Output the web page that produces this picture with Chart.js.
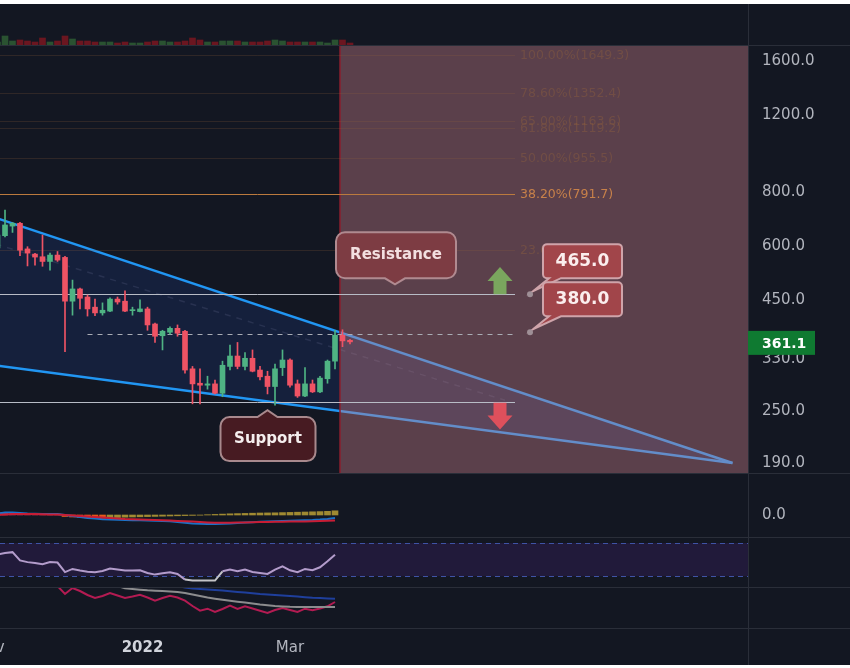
<!DOCTYPE html>
<html>
<head>
<meta charset="utf-8">
<script src="https://cdn.jsdelivr.net/npm/chart.js@4.4.1/dist/chart.umd.min.js"></script>
<style>
  html, body { margin: 0; padding: 0; background: #ffffff; }
  #wrap { position: absolute; left: 0; top: 4px; width: 850px; height: 661px; background: #131722; overflow: hidden; }
  #wrap canvas { position: absolute; left: 0; }
  .hsep { position: absolute; left: 0; width: 850px; height: 1px; background: #2a2e39; }
  .vsep { position: absolute; left: 748px; top: 0; width: 1px; height: 661px; background: #2a2e39; }
</style>
</head>
<body>
<div id="wrap">
  <div class="vsep"></div>
  <div class="hsep" style="top:41px"></div>
  <div class="hsep" style="top:469px"></div>
  <div class="hsep" style="top:533px"></div>
  <div class="hsep" style="top:583px"></div>
  <div class="hsep" style="top:624px"></div>
  <canvas id="vol" width="850" height="41" style="top:0"></canvas>
  <canvas id="main" width="850" height="427" style="top:42px"></canvas>
  <canvas id="macd" width="850" height="63" style="top:470px"></canvas>
  <canvas id="rsi" width="850" height="49" style="top:534px"></canvas>
  <canvas id="ind" width="850" height="77" style="top:584px"></canvas>
</div>
<script>
// 3-day candles
const candleDates = [
  '2021-11-04', '2021-11-07', '2021-11-10', '2021-11-13', '2021-11-16', '2021-11-19', '2021-11-22', '2021-11-25',
  '2021-11-28', '2021-12-01', '2021-12-04', '2021-12-07', '2021-12-10', '2021-12-13', '2021-12-16', '2021-12-19',
  '2021-12-22', '2021-12-25', '2021-12-28', '2021-12-31', '2022-01-03', '2022-01-06', '2022-01-09', '2022-01-12',
  '2022-01-15', '2022-01-18', '2022-01-21', '2022-01-24', '2022-01-27', '2022-01-30', '2022-02-02', '2022-02-05',
  '2022-02-08', '2022-02-11', '2022-02-14', '2022-02-17', '2022-02-20', '2022-02-23', '2022-02-26', '2022-03-01',
  '2022-03-04', '2022-03-07', '2022-03-10', '2022-03-13', '2022-03-16', '2022-03-19', '2022-03-22', '2022-03-25'
];
const opens  = [594, 634, 667, 677, 591, 575, 567, 553, 572, 565, 448, 478, 458, 434, 421, 425, 453, 448, 426, 424, 430, 397, 373, 380, 388, 382, 313, 290, 287, 289, 275, 317, 335, 317, 331, 311, 301, 285, 315, 328, 289, 271, 289, 277, 297, 326, 374, 364];
const highs  = [645, 726, 680, 680, 598, 577, 636, 578, 583, 568, 501, 480, 463, 453, 444, 456, 458, 473, 434, 451, 434, 399, 384, 391, 395, 384, 317, 313, 301, 295, 326, 355, 360, 341, 346, 317, 309, 321, 346, 330, 295, 315, 295, 301, 328, 384, 385, 366];
const lows   = [588, 630, 645, 570, 540, 542, 539, 528, 553, 343, 416, 430, 414, 415, 416, 424, 441, 424, 416, 423, 384, 360, 346, 376, 372, 306, 260, 260, 281, 274, 270, 311, 313, 311, 308, 295, 274, 258, 302, 284, 269, 270, 276, 276, 290, 313, 352, 357];
const closes = [636, 671, 677, 587, 578, 566, 553, 572, 557, 448, 478, 455, 430, 421, 427, 453, 446, 425, 428, 430, 395, 372, 382, 388, 378, 311, 289, 287, 289, 275, 319, 335, 317, 331, 309, 300, 285, 313, 328, 287, 271, 289, 277, 298, 326, 374, 363, 361.1];
const volumes = [30, 90, 40, 50, 40, 30, 70, 30, 40, 90, 60, 40, 40, 30, 30, 30, 20, 30, 20, 20, 30, 40, 40, 30, 30, 40, 70, 50, 30, 30, 40, 40, 40, 30, 30, 30, 40, 50, 40, 30, 30, 30, 30, 30, 20, 50, 50, 20];

const macdLine   = [1.5, 2.5, 2.5, 2, 1.5, 1.2, 1, 1, 1, 0, -1, -2, -3, -3.5, -4.2, -4.5, -4.8, -5, -5.2, -5.3, -5.5, -5.8, -6, -6.3, -7, -7.8, -8.5, -8.8, -9, -9, -8.8, -8.4, -8, -7.6, -7.2, -6.8, -6.5, -6.2, -5.9, -5.7, -5.5, -5.2, -5, -4.6, -4, -3, null, null];
const signalLine = [0, 0.5, 1, 1, 1, 1, 0.8, 0.6, 0.5, 0, -0.5, -1, -1.5, -2, -2.5, -3, -3.5, -4, -4.3, -4.5, -4.8, -5, -5.3, -5.6, -5.9, -6.2, -6.6, -7, -7.4, -7.7, -7.8, -7.8, -7.6, -7.4, -7.2, -7, -6.9, -6.8, -6.7, -6.6, -6.5, -6.4, -6.2, -6, -5.8, -5.5, null, null];
const macdHist   = [2.5, 2.3, 2.1, 1.9, 1.7, 1.5, 1.3, 1.1, 0.9, -1.5, -2.0, -2.5, -2.8, -3.0, -3.2, -2.8, -2.5, -2.2, -2.0, -1.8, -1.6, -1.4, -1.2, -1.0, -0.8, -0.6, -0.4, -0.2, 0.3, 0.6, 0.9, 1.2, 1.4, 1.6, 1.8, 2.0, 2.1, 2.2, 2.4, 2.6, 2.8, 3.0, 3.2, 3.4, 3.7, 4.2, null, null];

const rsiValues = [56, 58, 59, 49, 47, 46, 44.5, 47, 46.5, 35, 38.8, 37, 35.5, 34.8, 36.4, 39.2, 38, 36.8, 37, 37.2, 34, 32, 33.5, 34.8, 32.8, 26, 25, 24.8, 24.8, 24.8, 36, 38, 36, 38, 35.2, 34, 32.8, 38, 42, 37.2, 34.8, 38.8, 37.2, 40.8, 48, 56, null, null];
const rsiBands = [70, 30];

const indPink = [null, null, null, null, null, null, null, null, 42, 34, 40, 37, 33, 30, 32, 35, 32.5, 30, 31.5, 33.3, 30.5, 27.3, 30, 32.3, 30.5, 27.3, 22, 17.3, 19.3, 16, 19, 22.3, 19, 21.7, 19.5, 17.3, 15, 18, 20, 18, 16, 19.3, 17.7, 19.5, 21.7, 26, null, null];
const indGray = [null, null, null, null, null, null, null, null, null, null, null, null, null, null, null, 44, 42, 39.7, 39, 38.3, 37.7, 37.3, 37, 36.5, 36, 35, 33.5, 32, 30.5, 29.3, 28.2, 27.2, 26.3, 25.4, 24.5, 23.5, 22.7, 22, 21.6, 21.2, 21, 21, 21, 21, 21, 21, null, null];
const indBlue = [null, null, null, null, null, null, null, null, null, null, null, null, null, null, null, null, null, null, null, null, null, null, null, null, 42, 40.5, 39.5, 39, 38.5, 38, 37.4, 36.7, 36, 35.4, 34.7, 34, 33.5, 33, 32.5, 32, 31.4, 30.8, 30.3, 30, 29.6, 29.3, null, null];

const priceTicks = [1600, 1200, 800, 600, 450, 330, 250, 190];
const monthTicks = ['2021-11-01', '2022-01-01', '2022-03-01'];
const monthLabels = ['Nov', '2022', 'Mar'];

// drawings
const fibLevels = ['100.00%', '78.60%', '65.00%', '61.80%', '50.00%', '38.20%', '23.60%'];
const fibPrices = [1649.3, 1352.4, 1163.6, 1119.2, 955.5, 791.7, 589.0];
const keyLevels = [465.0, 263.0];
const watchLevel = 376.0;
const targetPrices = [465.0, 380.0];
const wedgeDates = ['2021-10-25', '2022-08-25'];
const wedgeUpper = [726, 190];
const wedgeLower = [324, 190];
const midDates = ['2021-10-25', '2022-05-26'];
const midPrices = [630, 265];
const zoneDates = ['2022-03-21', '2022-12-31'];
const levelsEnd = '2022-05-30';
const fibLabelDate = '2022-06-01';
const watchStart = '2021-12-10';
const arrowDate = '2022-05-24';
const upArrow = [465, 537];
const downArrow = [263, 227];
const targetDate = '2022-06-05';
const resistanceAt = ['2022-04-12', 490];
const supportAt = ['2022-02-20', 251.5];
const lastPrice = 361.1;

const dayNum = s => Date.parse(s + 'T00:00:00Z') / 864e5;
const candleX = candleDates.map(dayNum);
const xMin = dayNum('2021-11-05');
const xMax = xMin + 299.2;

const GREEN = '#4fb383', RED = '#ef5364';
const candleColors = closes.map((c, i) => c >= opens[i] ? GREEN : RED);
const volColors = closes.map((c, i) => c >= opens[i] ? '#2a5231' : '#6b1620');
const histColors = macdHist.map((v, i) => {
  const prev = i > 0 ? macdHist[i - 1] : Infinity;
  if (v < prev) return v >= 0 ? '#b3384f' : '#e65a19';
  return '#a08a32';
});
const pts = arr => arr.map((v, i) => ({ x: candleX[i], y: v }));

Chart.defaults.font.family = "'DejaVu Sans', sans-serif";
Chart.defaults.font.size = 15;
Chart.defaults.color = '#b2b5be';

const common = {
  responsive: false,
  animation: false,
  events: [],
  layout: { padding: 0 },
  plugins: { legend: { display: false }, tooltip: { enabled: false } }
};
const hiddenX = { type: 'linear', min: xMin, max: xMax, offset: false, bounds: 'data', display: false };
function rightAxis(extra) {
  return Object.assign({
    position: 'right',
    bounds: 'data',
    beginAtZero: false,
    afterFit: s => { s.width = 102; s.paddingTop = 0; s.paddingBottom = 0; },
    grid: { display: false, drawTicks: false },
    border: { display: false },
    ticks: { display: false }
  }, extra);
}

// volume pane
new Chart(document.getElementById('vol'), {
  type: 'bar',
  data: { datasets: [{ data: pts(volumes), backgroundColor: volColors, barThickness: 6, grouped: false, clip: 0 }] },
  options: Object.assign({}, common, {
    scales: { x: hiddenX, y: rightAxis({ min: 0, max: 410 }) }
  })
});

function calloutPath(ctx, x, y, w, h, r, side, b1, b2, tip) {
  ctx.beginPath();
  ctx.moveTo(x + r, y);
  if (side === 'top') { ctx.lineTo(b1, y); ctx.lineTo(tip[0], tip[1]); ctx.lineTo(b2, y); }
  ctx.lineTo(x + w - r, y);
  ctx.arcTo(x + w, y, x + w, y + r, r);
  ctx.lineTo(x + w, y + h - r);
  ctx.arcTo(x + w, y + h, x + w - r, y + h, r);
  if (side === 'bottom') { ctx.lineTo(b2, y + h); ctx.lineTo(tip[0], tip[1]); ctx.lineTo(b1, y + h); }
  ctx.lineTo(x + r, y + h);
  ctx.arcTo(x, y + h, x, y + h - r, r);
  ctx.lineTo(x, y + r);
  ctx.arcTo(x, y, x + r, y, r);
  ctx.closePath();
}

function drawArrow(ctx, cx, yFrom, yTo, color) {
  const dir = Math.sign(yTo - yFrom);
  const neck = yTo - dir * 14;
  ctx.fillStyle = color;
  ctx.beginPath();
  ctx.moveTo(cx - 6.5, yFrom);
  ctx.lineTo(cx - 6.5, neck);
  ctx.lineTo(cx - 12.5, neck);
  ctx.lineTo(cx, yTo);
  ctx.lineTo(cx + 12.5, neck);
  ctx.lineTo(cx + 6.5, neck);
  ctx.lineTo(cx + 6.5, yFrom);
  ctx.closePath();
  ctx.fill();
}

const drawings = {
  id: 'drawings',
  beforeDatasetsDraw(chart) {
    const { ctx, chartArea: a, scales: { x, y } } = chart;
    const X = d => x.getPixelForValue(dayNum(d));
    ctx.save();
    ctx.beginPath();
    ctx.rect(a.left, a.top, a.width, a.height);
    ctx.clip();

    // wedge
    const wx0 = X(wedgeDates[0]), wx1 = X(wedgeDates[1]);
    ctx.fillStyle = 'rgba(41, 98, 255, 0.12)';
    ctx.beginPath();
    ctx.moveTo(wx0, y.getPixelForValue(wedgeUpper[0]));
    ctx.lineTo(wx1, y.getPixelForValue(wedgeUpper[1]));
    ctx.lineTo(wx1, y.getPixelForValue(wedgeLower[1]));
    ctx.lineTo(wx0, y.getPixelForValue(wedgeLower[0]));
    ctx.closePath();
    ctx.fill();

    ctx.setLineDash([6, 6]);
    ctx.strokeStyle = 'rgba(110, 120, 150, 0.22)';
    ctx.lineWidth = 1.5;
    ctx.beginPath();
    ctx.moveTo(X(midDates[0]), y.getPixelForValue(midPrices[0]));
    ctx.lineTo(X(midDates[1]), y.getPixelForValue(midPrices[1]));
    ctx.stroke();
    ctx.setLineDash([]);

    ctx.strokeStyle = '#2196f3';
    ctx.lineWidth = 2.5;
    [wedgeUpper, wedgeLower].forEach(line => {
      ctx.beginPath();
      ctx.moveTo(wx0, y.getPixelForValue(line[0]));
      ctx.lineTo(wx1, y.getPixelForValue(line[1]));
      ctx.stroke();
    });

    // red zone
    const zx = X(zoneDates[0]);
    ctx.fillStyle = 'rgba(200, 128, 137, 0.4)';
    ctx.fillRect(zx, a.top, X(zoneDates[1]) - zx, a.height);
    ctx.strokeStyle = '#8a1f2e';
    ctx.lineWidth = 1.5;
    ctx.beginPath();
    ctx.moveTo(zx, a.top);
    ctx.lineTo(zx, a.bottom);
    ctx.stroke();

    // fib levels
    const endX = X(levelsEnd), labX = X(fibLabelDate);
    ctx.font = "12.5px 'DejaVu Sans'";
    ctx.textAlign = 'left';
    ctx.textBaseline = 'middle';
    fibPrices.forEach((p, i) => {
      const py = Math.round(y.getPixelForValue(p)) + 0.5;
      const bright = fibLevels[i] === '38.20%';
      ctx.strokeStyle = bright ? '#bb7a3e' : 'rgba(150, 100, 60, 0.22)';
      ctx.lineWidth = 1;
      ctx.beginPath();
      ctx.moveTo(a.left, py);
      ctx.lineTo(endX, py);
      ctx.stroke();
      ctx.fillStyle = bright ? '#c8814a' : 'rgba(150, 100, 60, 0.38)';
      ctx.fillText(fibLevels[i] + '(' + p.toFixed(1) + ')', labX, py);
    });

    // key horizontal levels
    ctx.strokeStyle = '#b8bcc6';
    ctx.lineWidth = 1;
    keyLevels.forEach(p => {
      const py = Math.round(y.getPixelForValue(p)) + 0.5;
      ctx.beginPath();
      ctx.moveTo(a.left, py);
      ctx.lineTo(endX, py);
      ctx.stroke();
    });
    const wy = Math.round(y.getPixelForValue(watchLevel)) + 0.5;
    ctx.setLineDash([5, 5]);
    ctx.strokeStyle = '#a9acb5';
    ctx.beginPath();
    ctx.moveTo(X(watchStart), wy);
    ctx.lineTo(endX, wy);
    ctx.stroke();
    ctx.setLineDash([]);
    ctx.restore();
  },
  afterDatasetsDraw(chart) {
    const { ctx, scales: { x, y } } = chart;
    const X = d => x.getPixelForValue(dayNum(d));
    ctx.save();

    const ax = X(arrowDate);
    drawArrow(ctx, ax, y.getPixelForValue(upArrow[0]), y.getPixelForValue(upArrow[1]), '#7aa65e');
    drawArrow(ctx, ax, y.getPixelForValue(downArrow[0]) + 1, y.getPixelForValue(downArrow[1]), '#de505c');

    ctx.textAlign = 'center';
    ctx.textBaseline = 'middle';

    // Resistance callout (pointer down)
    let tx = X(resistanceAt[0]), ty = y.getPixelForValue(resistanceAt[1]);
    let bx = tx - 59, by = ty - 6 - 46;
    calloutPath(ctx, bx, by, 120, 46, 9, 'bottom', tx - 10, tx + 10, [tx, ty]);
    ctx.fillStyle = '#7d3c43';
    ctx.fill();
    ctx.strokeStyle = '#b08a90';
    ctx.lineWidth = 2;
    ctx.stroke();
    ctx.fillStyle = '#f3dfe0';
    ctx.font = "bold 15px 'DejaVu Sans'";
    ctx.fillText('Resistance', bx + 60, by + 23);

    // Support callout (pointer up)
    tx = X(supportAt[0]); ty = y.getPixelForValue(supportAt[1]);
    bx = tx - 47; by = ty + 7;
    calloutPath(ctx, bx, by, 95, 44, 9, 'top', tx - 10, tx + 10, [tx, ty]);
    ctx.fillStyle = '#471b22';
    ctx.fill();
    ctx.strokeStyle = '#a8898d';
    ctx.lineWidth = 2;
    ctx.stroke();
    ctx.fillStyle = '#f5eeee';
    ctx.fillText('Support', bx + 47.5, by + 22);

    // target price labels
    ctx.font = "bold 17px 'DejaVu Sans'";
    targetPrices.forEach(p => {
      const dx = X(targetDate), dy = y.getPixelForValue(p);
      const lx = dx + 13, ly = dy - 50;
      calloutPath(ctx, lx, ly, 79, 34, 4, 'bottom', lx + 6, lx + 18, [dx + 3, dy - 3]);
      ctx.fillStyle = '#a1454a';
      ctx.fill();
      ctx.strokeStyle = '#cfa4aa';
      ctx.lineWidth = 2;
      ctx.stroke();
      ctx.fillStyle = '#fbeeee';
      ctx.fillText(p.toFixed(1), lx + 39.5, ly + 17.5);
      ctx.fillStyle = '#9e8f96';
      ctx.beginPath();
      ctx.arc(dx, dy, 3, 0, Math.PI * 2);
      ctx.fill();
    });
    ctx.restore();
  },
  afterDraw(chart) {
    const { ctx, chartArea: a, scales: { y } } = chart;
    const py = y.getPixelForValue(lastPrice);
    ctx.save();
    ctx.fillStyle = '#0f7a31';
    ctx.fillRect(a.right, py - 11, 67, 24);
    ctx.fillStyle = '#ffffff';
    ctx.font = "bold 14px 'DejaVu Sans'";
    ctx.textAlign = 'left';
    ctx.textBaseline = 'middle';
    ctx.fillText(lastPrice.toFixed(1), a.right + 14, py + 2);
    ctx.restore();
  }
};

// main price pane
new Chart(document.getElementById('main'), {
  type: 'bar',
  data: {
    datasets: [
      { data: candleX.map((x, i) => ({ x, y: [lows[i], highs[i]] })), backgroundColor: candleColors, barThickness: 1, grouped: false, order: 2, clip: 0 },
      { data: candleX.map((x, i) => ({ x, y: [opens[i], closes[i]] })), backgroundColor: candleColors, barThickness: 5, minBarLength: 1, grouped: false, order: 1, clip: 0 }
    ]
  },
  options: Object.assign({}, common, {
    scales: {
      x: hiddenX,
      y: rightAxis({
        type: 'logarithmic',
        min: 180.2,
        max: 1732.6,
        afterBuildTicks: s => { s.ticks = priceTicks.map(v => ({ value: v })); },
        ticks: { display: true, padding: 14, autoSkip: false, color: '#b2b5be', font: { size: 15 }, callback: v => Number(v).toFixed(1) }
      })
    }
  }),
  plugins: [drawings]
});

// MACD pane
new Chart(document.getElementById('macd'), {
  type: 'bar',
  data: {
    datasets: [
      { type: 'line', data: pts(signalLine), borderColor: '#c81d35', borderWidth: 2, pointRadius: 0, order: 0, clip: 0 },
      { type: 'line', data: pts(macdLine), borderColor: '#1a73c9', borderWidth: 2, pointRadius: 0, order: 1, clip: 0 },
      { type: 'bar', data: pts(macdHist), backgroundColor: histColors, barThickness: 6, grouped: false, order: 2, clip: 0 }
    ]
  },
  options: Object.assign({}, common, {
    scales: {
      x: hiddenX,
      y: rightAxis({
        min: -22,
        max: 41,
        afterBuildTicks: s => { s.ticks = [{ value: 0 }]; },
        ticks: { display: true, padding: 14, color: '#b2b5be', font: { size: 15 }, callback: v => Number(v).toFixed(1) }
      })
    }
  })
});

// RSI pane
const rsiBand = {
  id: 'rsiBand',
  beforeDatasetsDraw(chart) {
    const { ctx, chartArea: a, scales: { y } } = chart;
    const yTop = y.getPixelForValue(rsiBands[0]), yBot = y.getPixelForValue(rsiBands[1]);
    ctx.save();
    ctx.fillStyle = '#211a3a';
    ctx.fillRect(a.left, yTop, a.width, yBot - yTop);
    ctx.setLineDash([5, 4]);
    ctx.strokeStyle = '#3f53a6';
    ctx.lineWidth = 1;
    [yTop, yBot].forEach(v => {
      ctx.beginPath();
      ctx.moveTo(a.left, Math.round(v) + 0.5);
      ctx.lineTo(a.right, Math.round(v) + 0.5);
      ctx.stroke();
    });
    ctx.restore();
  }
};
new Chart(document.getElementById('rsi'), {
  type: 'line',
  data: {
    datasets: [{
      data: pts(rsiValues), borderColor: '#b39ccb', borderWidth: 2, pointRadius: 0, clip: 0,
      segment: { borderColor: c => c.p0.parsed.y < rsiBands[1] ? '#c4c4c8' : undefined }
    }]
  },
  options: Object.assign({}, common, { scales: { x: hiddenX, y: rightAxis({ min: 17.1, max: 76 }) } }),
  plugins: [rsiBand]
});

// lower indicator pane + time axis
new Chart(document.getElementById('ind'), {
  type: 'line',
  data: {
    datasets: [
      { data: pts(indBlue), borderColor: '#1f3f9c', borderWidth: 2, pointRadius: 0, clip: 0 },
      { data: pts(indGray), borderColor: '#8c8c8e', borderWidth: 2, pointRadius: 0, clip: 0 },
      { data: pts(indPink), borderColor: '#b31b52', borderWidth: 2, pointRadius: 0, clip: 0 }
    ]
  },
  options: Object.assign({}, common, {
    scales: {
      x: {
        type: 'linear', min: xMin, max: xMax, offset: false, bounds: 'data', position: 'bottom',
        afterBuildTicks: s => { s.ticks = monthTicks.map(d => ({ value: dayNum(d) })); },
        afterFit: s => { s.height = 37; s.paddingLeft = 0; s.paddingRight = 0; },
        grid: { display: false, drawTicks: false },
        border: { display: false },
        ticks: {
          autoSkip: false, maxRotation: 0, minRotation: 0, padding: 11,
          callback: (v, i) => monthLabels[i],
          color: c => monthTicks[c.index] && monthTicks[c.index].endsWith('-01-01') ? '#d1d4dc' : '#b2b5be',
          font: c => ({ size: 15, weight: monthTicks[c.index] && monthTicks[c.index].endsWith('-01-01') ? 'bold' : 'normal' })
        }
      },
      y: rightAxis({ min: 0, max: 40 })
    }
  })
});
</script>
</body>
</html>
